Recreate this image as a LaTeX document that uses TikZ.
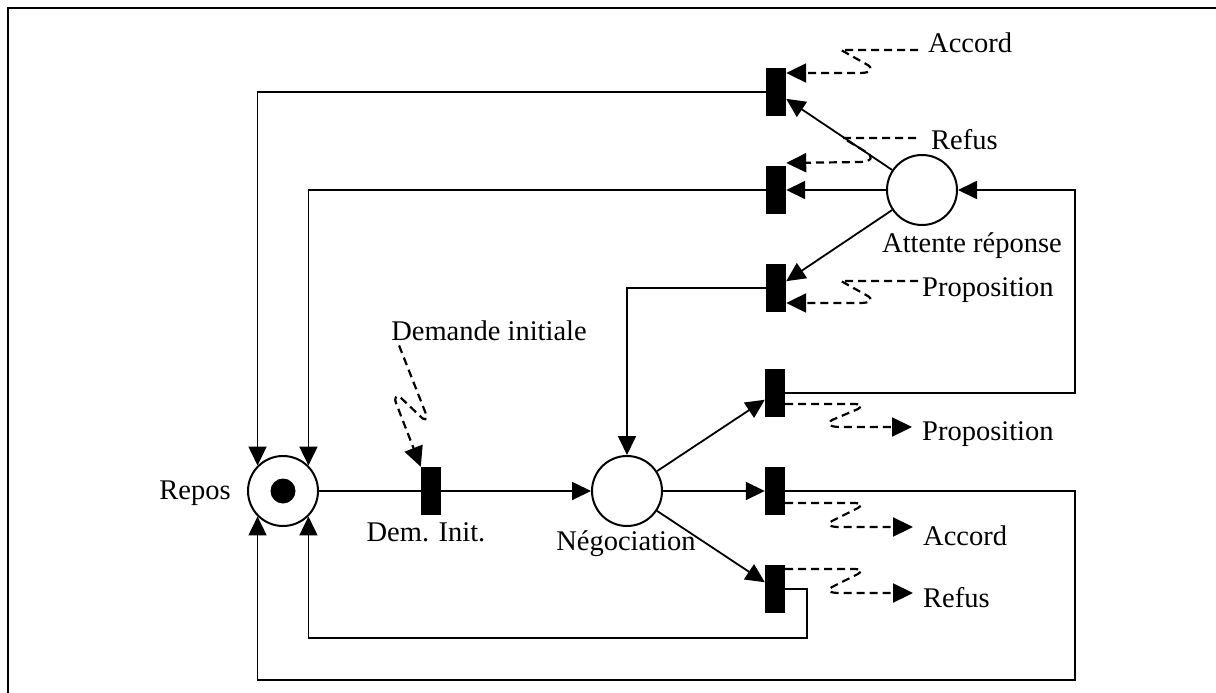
\documentclass[tikz,border=0pt]{standalone}
\usepackage{fontspec}
\setmainfont{Liberation Serif}
\usetikzlibrary{arrows.meta,calc}
\begin{document}
\begin{tikzpicture}[x=1pt,y=-1pt,
  every node/.style={font=\fontsize{28.5}{34}\selectfont},
  place/.style={circle,draw,line width=2pt,minimum size=70pt,inner sep=0pt},
  tokendot/.style={circle,fill=black,minimum size=25pt,inner sep=0pt},
  trans/.style={rectangle,fill=black,minimum width=20pt,minimum height=48pt,inner sep=0pt},
  lbl/.style={inner sep=0pt},
  conn/.style={line width=1.8pt},
  arr/.style={conn,-{Triangle[length=19pt,width=18pt]}},
  sig/.style={line width=2.2pt,dash pattern=on 8pt off 5pt,-{Triangle[length=20pt,width=19pt]}}
]
\useasboundingbox (0,0) rectangle (1216,693);
\draw[line width=2pt] (8,693) -- (8,8) -- (1216,8);

% places
\node[place] (repos) at (283,491) {};
\node[tokendot] (tok) at (repos) {};
\node[place] (neg) at (627,491) {};
\node[place] (att) at (922,190) {};

% transitions
\node[trans] (tdi) at (431,491) {};
\node[trans] (tA) at (776,92) {};
\node[trans] (tR) at (776,190) {};
\node[trans] (tP) at (776,288) {};
\node[trans] (tPo) at (775,393) {};
\node[trans] (tAo) at (775,491) {};
\node[trans] (tRo) at (775,589) {};

% labels
\node[lbl,anchor=base] (lrepos) at (195,499) {Repos};
\node[lbl,anchor=base] (ldi) at (426,541) {Dem. Init.};
\node[lbl,anchor=base] (lneg) at (626,550) {Négociation};
\node[lbl,anchor=base] (ldem) at (489,340) {Demande initiale};
\node[lbl,anchor=base] (latt) at (972,252) {Attente réponse};
\node[lbl,anchor=base west] (lA) at (928,53) {Accord};
\node[lbl,anchor=base west] (lR) at (931,149) {Refus};
\node[lbl,anchor=base west] (lP) at (922,296) {Proposition};
\node[lbl,anchor=base west] (lPo) at (922,440) {Proposition};
\node[lbl,anchor=base west] (lAo) at (923,545) {Accord};
\node[lbl,anchor=base west] (lRo) at (923,607) {Refus};

% corner coordinates
\coordinate (cR1) at (1075,190);
\coordinate (cB1) at (1075,680);
\coordinate (cB2) at (807,638);

% connectors
\draw[conn] (repos) -- (tdi);
\draw[arr] (tdi) -- (neg);
\draw[arr] (att) -- (tA);
\draw[arr] (att) -- (tR);
\draw[arr] (att) -- (tP);
\draw[arr] (neg) -- (tPo);
\draw[arr] (neg) -- (tAo);
\draw[arr] (neg) -- (tRo);
\draw[arr] (tA.west) -| (repos.135);
\draw[arr] (tR.west) -| (repos.45);
\draw[arr] (tP.west) -| (neg.north);
\draw[arr] (tPo.east) -| (cR1) -- (att.east);
\draw[arr] (tAo.east) -| (cB1) -| (repos.225);
\draw[arr] (tRo.east) -| (cB2) -| (repos.315);

% signal (dashed) arrows
\draw[sig] (ldem.south west) ++(8,5) coordinate (d0)
  (d0) -- (426,414) .. controls (428,420) and (424,421) .. (420,416)
  -- (400,397) .. controls (396,394) and (394,399) .. (396,403) -- (tdi.north west);

\draw[sig] (lA.base west) ++(-10,-3) -- (841,50) -- (866,64) .. controls (874,68) and (872,73) .. (860,73) -- (tA.east |- 0,73);
\draw[sig] (lR.base west) ++(-15,-11) -- (843,138) -- (866,152) .. controls (874,156) and (872,162) .. (860,162) -- (tR.east |- 0,163);
\draw[sig] (lP.base west) ++(-4,-15) -- (841,281) -- (866,295) .. controls (874,299) and (872,303) .. (860,303) -- (tP.east |- 0,303);

\draw[sig] (tPo.east |- 0,404) -- (855,404) .. controls (863,405) .. (858,409) -- (832,420) .. controls (826,424) and (830,427) .. (840,427) -- ($(lPo.base west)+(-10,-13)$);
\draw[sig] (tAo.east |- 0,503) -- (855,503) .. controls (863,504) .. (858,508) -- (832,521) .. controls (826,525) and (830,527) .. (840,527) -- ($(lAo.base west)+(-10,-18)$);
\draw[sig] (tRo.east |- 0,569) -- (855,569) .. controls (863,570) .. (858,574) -- (832,587) .. controls (826,591) and (830,593) .. (840,593) -- ($(lRo.base west)+(-10,-14)$);
\end{tikzpicture}
\end{document}
